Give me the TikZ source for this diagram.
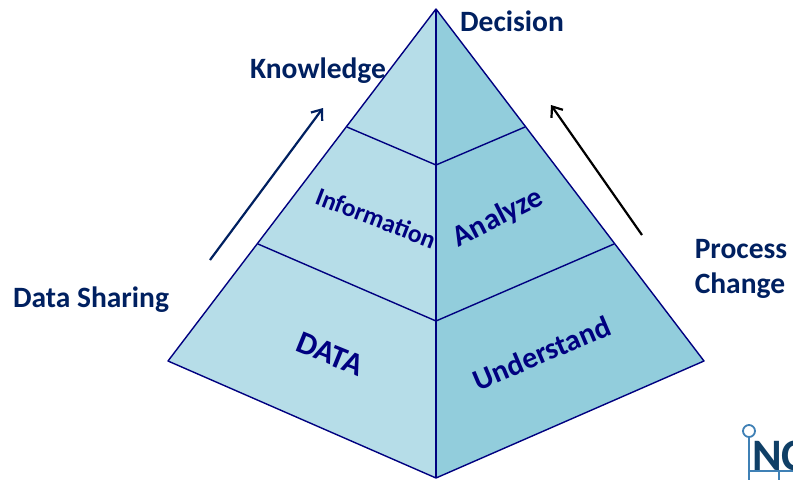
\documentclass[tikz,border=0pt]{standalone}
\usepackage{fontspec}
\setmainfont{Carlito}
\definecolor{leftface}{HTML}{B6DDE8}
\definecolor{rightface}{HTML}{92CDDC}
\definecolor{edgeblue}{HTML}{000080}
\definecolor{titleblue}{HTML}{002060}
\definecolor{logoblue}{HTML}{0F3F66}
\definecolor{logoline}{HTML}{3F80B5}
\tikzset{
 edge/.style={draw=edgeblue,line width=1.4pt,line join=round},
 title/.style={font=\bfseries\fontsize{29.5}{35}\selectfont,text=titleblue,align=left,inner sep=0pt},
 face/.style={font=\bfseries\fontsize{30}{35}\selectfont,text=edgeblue,inner sep=0pt},
 flow/.style={line width=2.2pt,-{Straight Barb[length=9pt,width=14pt,line width=2.2pt]}},
}
\usetikzlibrary{arrows.meta}
\begin{document}
\begin{tikzpicture}[x=1pt,y=-1pt]
 \useasboundingbox (0,0) rectangle (793,480);
 \clip (0,0) rectangle (793,480);
 \coordinate (apex) at (436,9);
 \coordinate (west) at (168,361);
 \coordinate (east) at (704,361);
 \coordinate (south) at (436,478);
 \coordinate (midw) at (258,244);
 \coordinate (mide) at (614,244);
 \coordinate (midc) at (436,321);
 \coordinate (topw) at (347,127);
 \coordinate (tope) at (525,127);
 \coordinate (topc) at (436,165);
 \fill[leftface] (apex) -- (west) -- (south) -- cycle;
 \fill[rightface] (apex) -- (east) -- (south) -- cycle;
 \draw[edge] (apex) -- (west) -- (south) -- (east) -- cycle;
 \draw[edge] (apex) -- (south);
 \draw[edge] (midw) -- (midc) -- (mide);
 \draw[edge] (topw) -- (topc) -- (tope);
 \node[face,rotate=-22,font=\bfseries\fontsize{32}{35}\selectfont] (data) at (330,354) {DATA};
 \node[face,rotate=23] (understand) at (542,353) {Understand};
 \node[face,rotate=-21,font=\bfseries\fontsize{25.5}{30}\selectfont] (information) at (376,218) {Information};
 \node[face,rotate=27] (analyze) at (498,218) {Analyze};
 \node[title] (decision) at (512,21) {Decision};
 \node[title] (knowledge) at (318,71) {Knowledge};
 \node[title] (sharing) at (91,300) {Data Sharing};
 \node[title,font=\bfseries\fontsize{29.5}{35.5}\selectfont] (process) at (741,269) {Process\\Change};
 \coordinate (upl) at (210,260);
 \coordinate (uph) at (323,108);
 \coordinate (dnl) at (642,235);
 \coordinate (dnh) at (551,105);
 \draw[flow,draw=titleblue] (upl) -- (uph);
 \draw[flow,draw=black] (dnl) -- (dnh);
 % logo in the corner
 \node[draw=logoline,circle,line width=1.8pt,minimum size=12pt,inner sep=0pt] (ring) at (749,431) {};
 \coordinate (stem) at (749,480);
 \coordinate (barw) at (749,471);
 \coordinate (bare) at (793,471);
 \coordinate (tick) at (779,471);
 \coordinate (tickb) at (779,480);
 \draw[logoline,line width=1.8pt] (ring) -- (stem) (barw) -- (bare) (tick) -- (tickb);
 \node[anchor=base west,inner sep=0pt,font=\bfseries\fontsize{45}{45}\selectfont,text=logoblue] (logo) at (752,470) {NC};
\end{tikzpicture}
\end{document}
